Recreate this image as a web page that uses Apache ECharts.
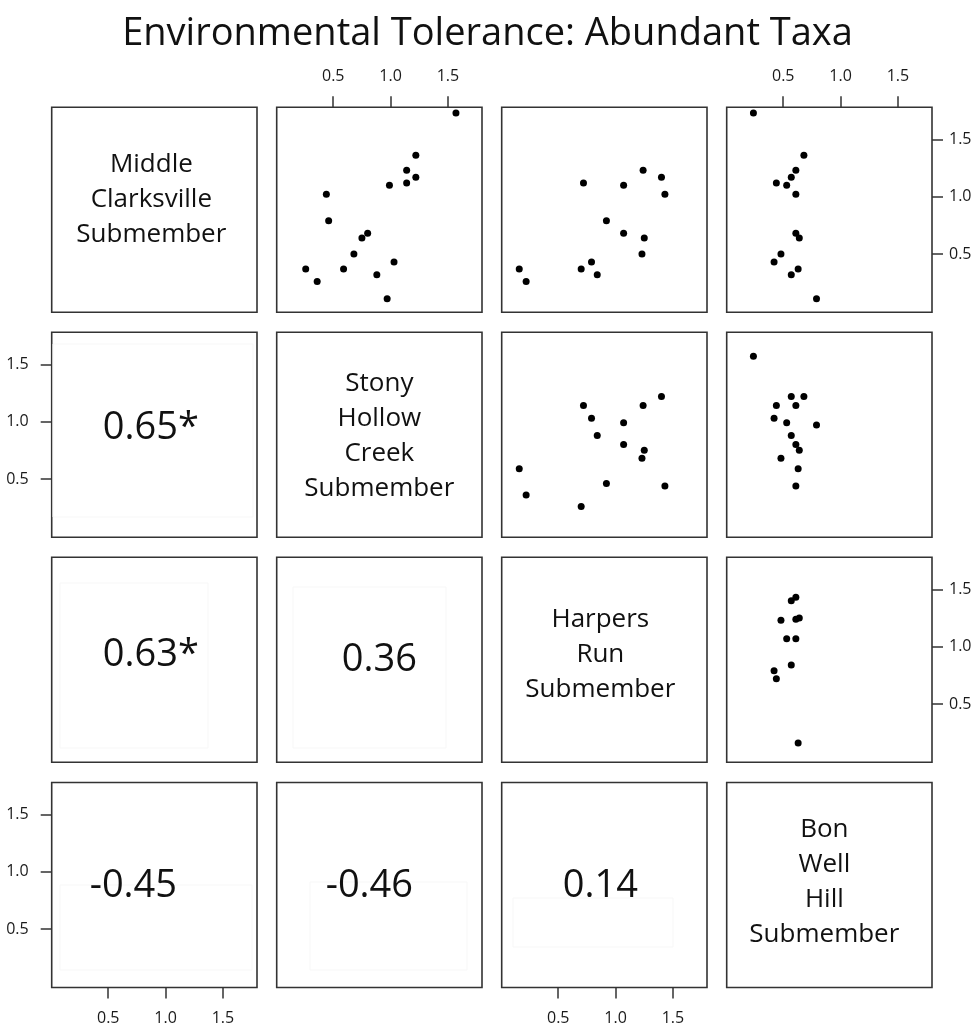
<!DOCTYPE html>
<html>
<head>
<meta charset="utf-8">
<title>Environmental Tolerance: Abundant Taxa</title>
<script src="https://cdn.jsdelivr.net/npm/echarts@6.0.0/dist/echarts.min.js"></script>
<style>
    html, body { margin: 0; padding: 0; background: #fff; }
    #main { width: 975px; height: 1028px; }
</style>
</head>
<body>
<div id="main"></div>
<script>
    // submember names, shown on the diagonal
    var members = [
        'Middle\nClarksville\nSubmember',
        'Stony\nHollow\nCreek\nSubmember',
        'Harpers\nRun\nSubmember',
        'Bon\nWell\nHill\nSubmember'
    ];

    // tolerance of each abundant taxon (same taxon order in every list, null = not present)
    var middleClarksville = [1.73, 1.36, 1.23, 1.17, 1.12, 1.10, 1.02, 0.79, 0.68, 0.64, 0.50, 0.37, 0.37, 0.43, 0.26, 0.32, 0.11];
    var stonyHollow       = [1.57, 1.22, 1.14, 1.22, 1.14, 0.99, 0.44, 0.46, 0.80, 0.75, 0.68, 0.26, 0.59, 1.03, 0.36, 0.88, 0.97];
    var harpersRun        = [null, null, 1.24, 1.40, 0.72, 1.07, 1.43, 0.92, 1.07, 1.25, 1.23, 0.70, 0.16, 0.79, 0.22, 0.84, null];
    var bonWellHill       = [0.24, 0.68, 0.61, 0.57, 0.44, 0.53, 0.61, null, 0.61, 0.64, 0.48, null, 0.63, 0.42, null, 0.57, 0.79];

    // correlations for the lower panels, row by row
    var corrLabels = [[], ['0.65*'], ['0.63*', '0.36'], ['-0.45', '-0.46', '0.14']];
    var tickValues = [0.5, 1.0, 1.5];

    var vars = [middleClarksville, stonyHollow, harpersRun, bonWellHill];

    // layout
    var colLeft = [51.7, 276.7, 501.7, 726.7];
    var rowTop = [107.3, 332.3, 557.3, 782.5];
    var boxW = 205.3, boxH = 205;
    var xMin = 0.007, xMax = 1.797;
    var yMin = -0.008, yMax = 1.779;
    var font = '"Open Sans", "Noto Sans", sans-serif';
    var ink = '#111';
    var frame = '#333';

    // small nudges so texts sit where they do in the figure
    var diagShift = [[-3, -10], [0, 1], [-4, -5], [-5, -3]];
    var corrShift = {'1,0': [-3.5, -7], '2,0': [-3.5, -5], '2,1': [0, 0], '3,0': [-21, 1], '3,1': [-10, 1], '3,2': [-4, 1]};
    var faintBoxes = [
        [53, 344, 200, 173], [60, 583, 148, 165], [293, 587, 153, 161],
        [60, 885, 192, 85], [310, 882, 157, 88], [513, 898, 160, 49]
    ];

    function makeAxis(gridIndex, position, visible, min, max, margin) {
        return {
            type: 'value',
            gridIndex: gridIndex,
            position: position,
            min: min,
            max: max,
            axisLine: {show: false, onZero: false},
            splitLine: {show: false},
            axisTick: {
                show: visible,
                customValues: tickValues,
                length: 11,
                lineStyle: {color: frame, width: 1.5}
            },
            axisLabel: {
                show: visible,
                customValues: tickValues,
                margin: margin,
                formatter: function (v) { return v.toFixed(1); },
                color: '#1a1a1a',
                fontSize: 16,
                fontFamily: font
            }
        };
    }

    var grids = [], xAxes = [], yAxes = [], series = [], graphics = [];

    for (var r = 0; r < 4; r++) {
        for (var c = 0; c < 4; c++) {
            var idx = r * 4 + c;
            grids.push({
                left: colLeft[c], top: rowTop[r], width: boxW, height: boxH,
                show: true,
                borderColor: frame,
                borderWidth: 1.6,
                backgroundColor: 'transparent',
                containLabel: false,
                outerBoundsMode: 'none'
            });

            var showX = (r === 0 && (c === 1 || c === 3)) || (r === 3 && (c === 0 || c === 2));
            var showY = (c === 0 && (r === 1 || r === 3)) || (c === 3 && (r === 0 || r === 2));
            xAxes.push(makeAxis(idx, r === 0 ? 'top' : 'bottom', showX, xMin, xMax, 23));
            yAxes.push(makeAxis(idx, c === 3 ? 'right' : 'left', showY, yMin, yMax, c === 3 ? 17 : 23));

            var cx = colLeft[c] + boxW / 2, cy = rowTop[r] + boxH / 2;

            if (r < c) {
                // upper panels: scatter of column member (x) against row member (y)
                var pts = [];
                for (var i = 0; i < vars[r].length; i++) {
                    if (vars[c][i] !== null && vars[r][i] !== null) {
                        pts.push([vars[c][i], vars[r][i]]);
                    }
                }
                series.push({
                    type: 'scatter',
                    xAxisIndex: idx,
                    yAxisIndex: idx,
                    data: pts,
                    symbol: 'circle',
                    symbolSize: 7,
                    itemStyle: {color: '#000', opacity: 1},
                    silent: true
                });
            } else if (r === c) {
                graphics.push({
                    type: 'text',
                    x: cx + diagShift[r][0],
                    y: cy + diagShift[r][1],
                    style: {
                        text: members[r],
                        font: '26px ' + font,
                        fill: ink,
                        lineHeight: 35,
                        align: 'center',
                        verticalAlign: 'middle',
                        textAlign: 'center',
                        textVerticalAlign: 'middle'
                    }
                });
            } else {
                var s = corrShift[r + ',' + c];
                graphics.push({
                    type: 'text',
                    x: cx + s[0],
                    y: cy + s[1],
                    z: 10,
                    style: {
                        text: corrLabels[r][c],
                        font: '38px ' + font,
                        fill: ink,
                        align: 'center',
                        verticalAlign: 'middle',
                        textAlign: 'center',
                        textVerticalAlign: 'middle'
                    }
                });
            }
        }
    }

    // barely visible leftover frames around the correlation texts
    faintBoxes.forEach(function (b) {
        graphics.push({
            type: 'rect',
            z: 1,
            shape: {x: b[0], y: b[1], width: b[2], height: b[3]},
            style: {fill: 'none', stroke: '#f7f7f7', lineWidth: 1}
        });
    });

    // title
    graphics.push({
        type: 'text',
        x: 487.5,
        y: 34,
        style: {
            text: 'Environmental Tolerance: Abundant Taxa',
            font: '38px ' + font,
            fill: '#111',
            align: 'center',
            verticalAlign: 'middle',
            textAlign: 'center',
            textVerticalAlign: 'middle'
        }
    });

    var myChart = echarts.init(document.getElementById('main'), null, {renderer: 'canvas'});
    myChart.setOption({
        animation: false,
        backgroundColor: '#fff',
        grid: grids,
        xAxis: xAxes,
        yAxis: yAxes,
        series: series,
        graphic: graphics
    });
</script>
</body>
</html>
